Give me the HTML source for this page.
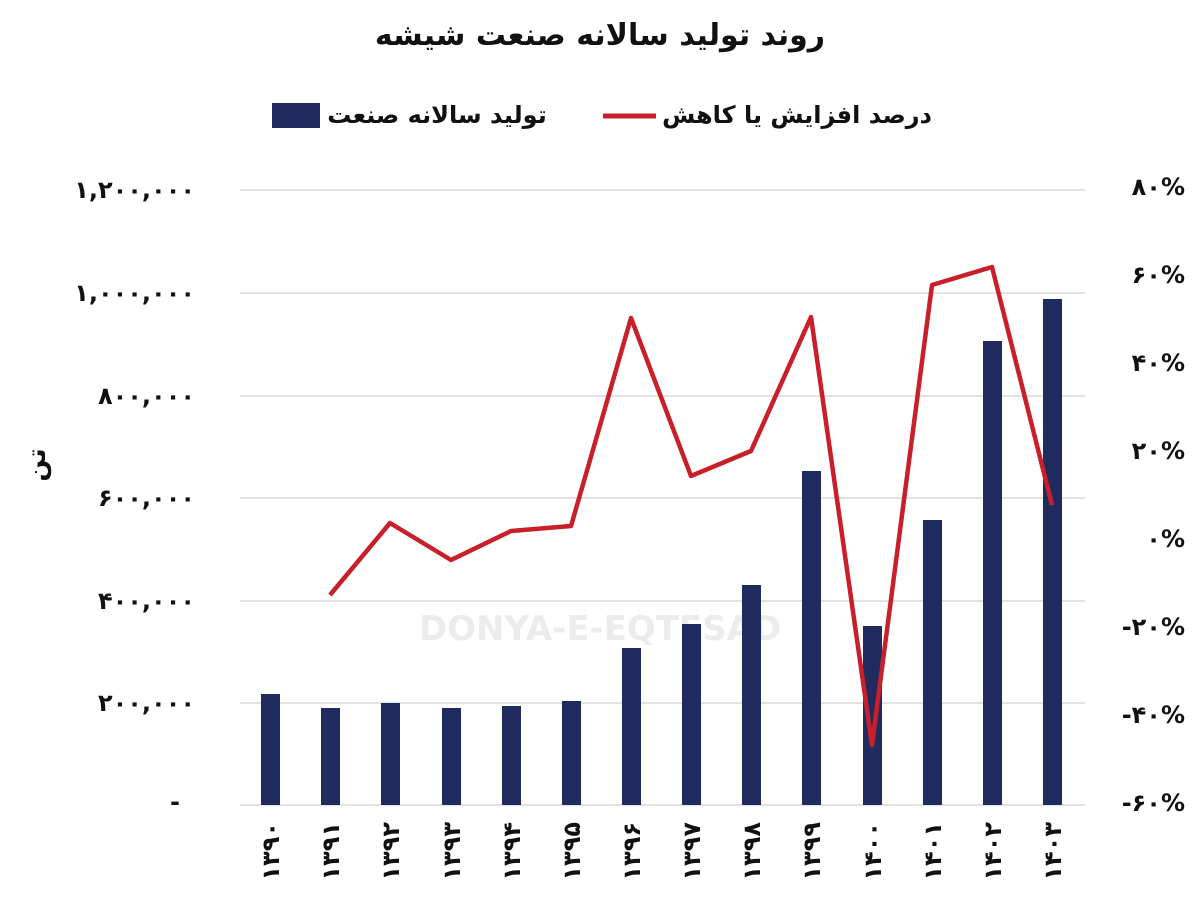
<!DOCTYPE html>
<html><head><meta charset="utf-8"><style>
body{margin:0;background:#fff;}
svg text{font-family:"DejaVu Sans","Liberation Sans",sans-serif;font-weight:bold;fill:#111;}
</style></head><body>
<svg width="1200" height="906" viewBox="0 0 1200 906" xmlns="http://www.w3.org/2000/svg">
<rect width="1200" height="906" fill="#fff"/>
<text x="600" y="45" text-anchor="middle" font-size="30">روند تولید سالانه صنعت شیشه</text>
<rect x="272" y="103" width="48" height="25" fill="#1f2a5e"/>
<text x="437" y="123" text-anchor="middle" font-size="24">تولید سالانه صنعت</text>
<line x1="603" y1="116" x2="656" y2="116" stroke="#c8202a" stroke-width="5"/>
<text x="797" y="123" text-anchor="middle" font-size="24">درصد افزایش یا کاهش</text>
<g stroke="#d9d9d9" stroke-width="1.5">
<line x1="240" y1="190" x2="1085" y2="190"/><line x1="240" y1="293" x2="1085" y2="293"/>
<line x1="240" y1="396" x2="1085" y2="396"/><line x1="240" y1="498" x2="1085" y2="498"/>
<line x1="240" y1="601" x2="1085" y2="601"/><line x1="240" y1="703" x2="1085" y2="703"/>
<line x1="240" y1="805" x2="1085" y2="805"/>
</g>
<text x="600" y="640" text-anchor="middle" font-size="34" style="fill:#ececec">DONYA-E-EQTESAD</text>
<g font-size="24" text-anchor="end">
<text x="195" y="198">۱,۲۰۰,۰۰۰</text><text x="195" y="301">۱,۰۰۰,۰۰۰</text>
<text x="195" y="404">۸۰۰,۰۰۰</text><text x="195" y="506">۶۰۰,۰۰۰</text>
<text x="195" y="609">۴۰۰,۰۰۰</text><text x="195" y="711">۲۰۰,۰۰۰</text>
<text x="180" y="810">-</text>
</g>
<g font-size="24" text-anchor="end">
<text x="1185" y="195">۸۰%</text><text x="1185" y="283">۶۰%</text><text x="1185" y="371">۴۰%</text>
<text x="1185" y="459">۲۰%</text><text x="1185" y="547">۰%</text><text x="1185" y="635">-۲۰%</text>
<text x="1185" y="723">-۴۰%</text><text x="1185" y="811">-۶۰%</text>
</g>
<text transform="translate(45,465) rotate(-90)" font-size="26" text-anchor="middle">تن</text>
<g fill="#1f2a5e">
<rect x="261" y="694" width="19" height="111"/><rect x="321" y="708" width="19" height="97"/>
<rect x="381" y="703" width="19" height="102"/><rect x="442" y="708" width="19" height="97"/>
<rect x="502" y="706" width="19" height="99"/><rect x="562" y="701" width="19" height="104"/>
<rect x="622" y="648" width="19" height="157"/><rect x="682" y="624" width="19" height="181"/>
<rect x="742" y="585" width="19" height="220"/><rect x="802" y="471" width="19" height="334"/>
<rect x="863" y="626" width="19" height="179"/><rect x="923" y="520" width="19" height="285"/>
<rect x="983" y="341" width="19" height="464"/><rect x="1043" y="299" width="19" height="506"/>
</g>
<polyline fill="none" stroke="#c8202a" stroke-width="4.5" stroke-linejoin="round" points="330,595 390,523 451,560 511,531 571,526 631,318 691,476 751,451 811,317 872,745 932,285 992,267 1052,505"/>
<g font-size="24" text-anchor="end">
<text transform="translate(279,822) rotate(-90)">۱۳۹۰</text>
<text transform="translate(339,822) rotate(-90)">۱۳۹۱</text>
<text transform="translate(399,822) rotate(-90)">۱۳۹۲</text>
<text transform="translate(460,822) rotate(-90)">۱۳۹۳</text>
<text transform="translate(520,822) rotate(-90)">۱۳۹۴</text>
<text transform="translate(580,822) rotate(-90)">۱۳۹۵</text>
<text transform="translate(640,822) rotate(-90)">۱۳۹۶</text>
<text transform="translate(700,822) rotate(-90)">۱۳۹۷</text>
<text transform="translate(760,822) rotate(-90)">۱۳۹۸</text>
<text transform="translate(820,822) rotate(-90)">۱۳۹۹</text>
<text transform="translate(881,822) rotate(-90)">۱۴۰۰</text>
<text transform="translate(941,822) rotate(-90)">۱۴۰۱</text>
<text transform="translate(1001,822) rotate(-90)">۱۴۰۲</text>
<text transform="translate(1061,822) rotate(-90)">۱۴۰۳</text>
</g>
</svg>
</body></html>
